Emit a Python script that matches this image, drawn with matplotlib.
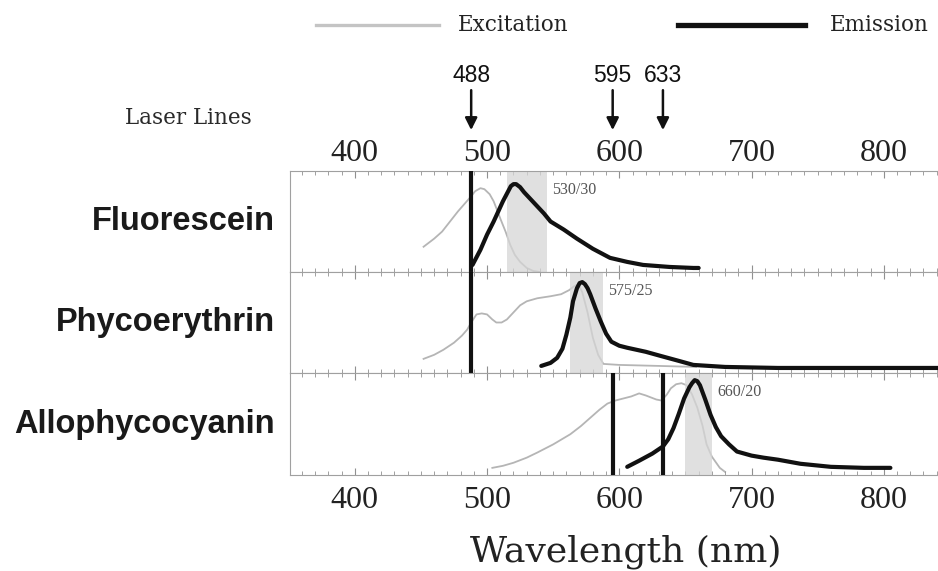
import numpy as np
import matplotlib
matplotlib.use('Agg')
import matplotlib.pyplot as plt
from matplotlib.lines import Line2D
from matplotlib.ticker import MultipleLocator
import matplotlib.transforms as mtransforms

# ---- spectra (wavelength nm, relative intensity %) ----
fitc_ex_nm = [452, 460, 466, 472, 478, 484, 488, 491, 495, 498, 502, 505, 508, 510,
              514, 517.5, 521, 525, 530, 535, 540]
fitc_ex = [25, 33, 40, 50, 60, 69, 75, 80, 83, 82, 77, 70, 60, 53,
           40, 27, 17, 10, 4, 1, 0]
fitc_em_nm = [489, 495, 500, 505, 512, 516, 518, 520, 522, 525, 528, 533, 543, 548,
              558, 568, 580, 593, 606, 618, 638, 656, 660]
fitc_em = [7, 22, 37, 50, 70, 80, 85, 87, 87, 84, 79, 72, 58, 50,
           42, 33, 23, 14, 10, 7, 5, 4, 4]

pe_ex_nm = [452, 460, 467, 475, 481, 485, 488, 492, 496, 500, 504, 507, 511, 515,
            520, 525, 530, 538, 548, 556, 562, 566, 569, 572, 576, 580, 584, 588,
            600, 630, 658]
pe_ex = [14, 18, 23, 30, 37, 43, 50, 58, 59, 58, 53, 50, 50, 53,
         60, 67, 71, 74, 76, 78, 82, 86, 88, 80, 60, 35, 18, 9,
         8, 7, 6]
pe_em_nm = [541, 548, 553, 557, 560, 563, 565, 568, 570, 572, 574, 576, 578, 582,
            586, 590, 594, 600, 606, 620, 631, 645, 656, 680, 720, 780, 841]
pe_em = [7, 10, 15, 24, 38, 55, 71, 84, 89, 90, 88, 84, 78, 64,
         51, 39, 31, 27, 25, 21, 17, 12, 8, 6, 5, 5, 5]

apc_ex_nm = [504, 512, 520, 530, 538, 550, 563, 571, 578, 585, 591, 597, 603, 609,
             615, 620, 624, 628, 632, 636, 639, 643, 647, 651, 655, 659, 663, 666,
             670, 676, 680]
apc_ex = [7, 9, 12, 17, 22, 30, 40, 48, 56, 64, 70, 73, 75, 77,
          80, 78, 76, 74, 73, 79, 85, 89, 90, 88, 79, 66, 48, 30,
          18, 7, 3]
apc_em_nm = [606, 615, 625, 633, 637, 641, 645, 649, 653, 655, 657, 659, 661, 665,
             669, 673, 677, 683, 689, 700, 709, 720, 737, 760, 785, 805]
apc_em = [8, 14, 21, 28, 35, 46, 60, 75, 86, 90, 93, 92, 88, 74,
          59, 47, 38, 30, 23, 19, 17, 15, 11, 8, 7, 7]

dyes = ['Fluorescein', 'Phycoerythrin', 'Allophycocyanin']
filters = [(530, 30), (575, 25), (660, 20)]
lasers = [488, 595, 633]
panel_lasers = [[488], [488], [595, 633]]

spectra = [(fitc_ex_nm, fitc_ex, fitc_em_nm, fitc_em),
           (pe_ex_nm, pe_ex, pe_em_nm, pe_em),
           (apc_ex_nm, apc_ex, apc_em_nm, apc_em)]

SERIF = 'Liberation Serif'
WIDE_SERIF = 'DejaVu Serif'
SANS = 'Liberation Sans'
EX_COLOR = '#b5b5b5'
INK = '#111111'

fig = plt.figure(figsize=(9.38, 5.71), dpi=100)

left, width = 290 / 938, 648 / 938
tops = [171, 272, 373, 475]
axes = []
for i in range(3):
    y0 = 1 - tops[i + 1] / 571
    h = (tops[i + 1] - tops[i]) / 571
    axes.append(fig.add_axes([left, y0, width, h]))

for ax, name, (ex_x, ex_y, em_x, em_y), (fc, fw), lz in zip(axes, dyes, spectra, filters, panel_lasers):
    ax.set_xlim(351, 841)
    ax.set_ylim(0, 100)
    ax.plot(ex_x, ex_y, color=EX_COLOR, lw=1.3, zorder=1)
    ax.axvspan(fc - fw / 2, fc + fw / 2, color='#d6d6d6', alpha=0.75, lw=0, zorder=2)
    ax.plot(em_x, em_y, color=INK, lw=3.0, zorder=3,
            solid_joinstyle='round', solid_capstyle='round')
    for w in lz:
        ax.axvline(w, color=INK, lw=3, zorder=4)
    ax.text(fc + fw / 2 + 4, 81, '%d/%d' % (fc, fw), fontsize=11.5,
            family=SERIF, color='#555555', va='center', ha='left')
    ax.text(-0.023, 0.5, name, transform=ax.transAxes, ha='right', va='center',
            fontsize=23.5, fontweight='bold', family=SANS, color='#1a1a1a')

    ax.set_yticks([])
    for s in ['top', 'bottom', 'left']:
        ax.spines[s].set_color('#a0a0a0')
        ax.spines[s].set_linewidth(0.8)
    ax.spines['right'].set_visible(False)
    ax.xaxis.set_major_locator(MultipleLocator(100))
    ax.xaxis.set_minor_locator(MultipleLocator(10))
    ax.tick_params(axis='x', which='both', direction='in', top=True, bottom=True,
                   color='#909090', labelbottom=False, labeltop=False)
    ax.tick_params(axis='x', which='major', length=5, width=0.8)
    ax.tick_params(axis='x', which='minor', length=3, width=0.6)

# wavelength labels above the first panel and below the last
axes[0].tick_params(axis='x', labeltop=True, pad=2, labelsize=23, labelcolor='#222222')
axes[2].tick_params(axis='x', labelbottom=True, pad=8, labelsize=23, labelcolor='#222222')
for ax in (axes[0], axes[2]):
    for lab in ax.get_xticklabels():
        lab.set_family(SERIF)

# laser line arrows
trans = mtransforms.blended_transform_factory(axes[0].transData, axes[0].transAxes)
for w in lasers:
    axes[0].annotate('', xy=(w, 1.405), xytext=(w, 1.80), xycoords=trans, textcoords=trans,
                     arrowprops=dict(arrowstyle='-|>', color=INK, lw=1.8,
                                     mutation_scale=18, shrinkA=0, shrinkB=0),
                     annotation_clip=False)
    axes[0].text(w, 1.95, str(w), transform=trans, ha='center', va='center',
                 fontsize=16.5, family=SANS, color=INK)

fig.text(188 / 938, 1 - 118 / 571, 'Laser Lines', ha='center', va='center',
         fontsize=15.5, family=WIDE_SERIF, color='#2a2a2a')

# legend
fig.add_artist(Line2D([316 / 938, 439 / 938], [1 - 25 / 571] * 2, color='#c4c4c4', lw=2.4))
fig.text(458 / 938, 1 - 25 / 571, 'Excitation', ha='left', va='center',
         fontsize=15.5, family=WIDE_SERIF, color='#222222')
fig.add_artist(Line2D([678 / 938, 805 / 938], [1 - 25 / 571] * 2, color=INK, lw=3.8))
fig.text(830 / 938, 1 - 25 / 571, 'Emission', ha='left', va='center',
         fontsize=15.5, family=WIDE_SERIF, color='#222222')

fig.text(626 / 938, 1 - 552 / 571, 'Wavelength (nm)', ha='center', va='center',
         fontsize=26, family=WIDE_SERIF, color='#222222')

fig.savefig('out.png', dpi=100)
